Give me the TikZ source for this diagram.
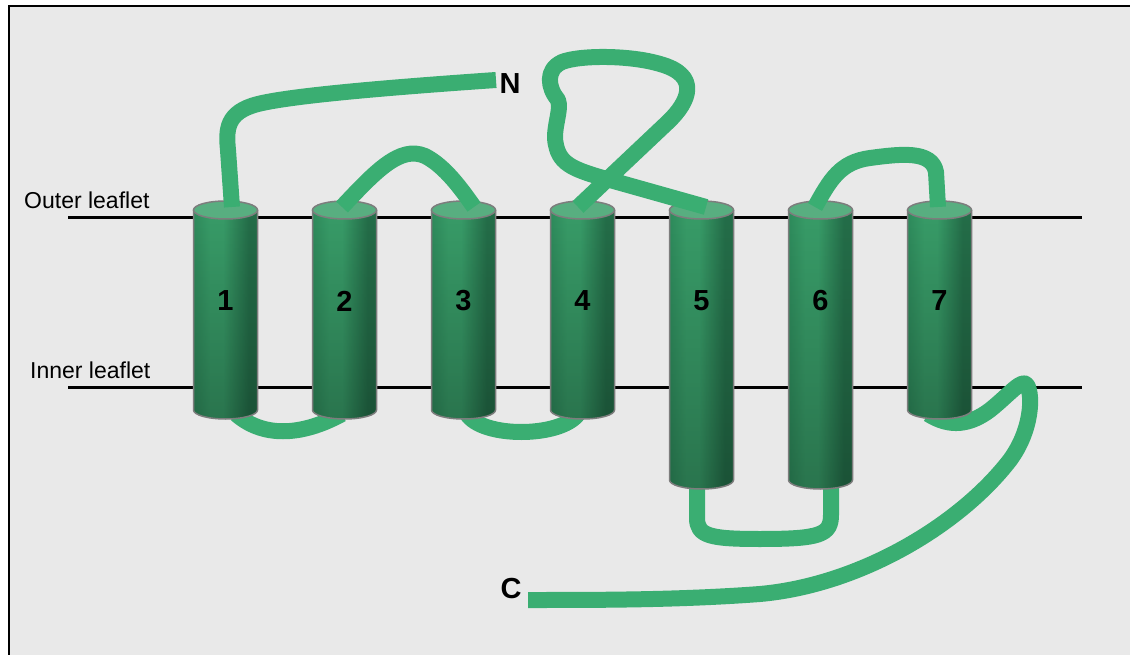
\documentclass[tikz,border=0pt]{standalone}
\usepackage{fontspec}
\setmainfont{Liberation Sans}
\usetikzlibrary{calc,fadings}

\definecolor{panelgray}{RGB}{233,233,233}
\definecolor{chaingreen}{RGB}{58,174,114}
\definecolor{helixA}{RGB}{46,140,92}
\definecolor{helixB}{RGB}{56,156,104}
\definecolor{helixC}{RGB}{36,110,73}
\definecolor{helixcap}{RGB}{88,174,128}
\definecolor{helixedge}{RGB}{125,125,125}

% body of a helix: light stripe left of centre, darker right side
\pgfdeclarehorizontalshading{helixbody}{100bp}{color(0bp)=(helixA); color(25bp)=(helixA); color(38bp)=(helixB); color(48bp)=(helixB); color(68bp)=(helixC); color(75bp)=(helixC); color(100bp)=(helixC)}
\tikzfading[name=helixshadow, top color=transparent!100, bottom color=transparent!0]

\tikzset{
  leaflet/.style={line width=3pt},
  peptide/.style={draw=chaingreen, line width=16pt, line join=round},
  helixnum/.style={font=\fontsize{29}{29}\selectfont\bfseries},
  terminus/.style={font=\fontsize{29}{29}\selectfont\bfseries},
  sidelabel/.style={font=\fontsize{23}{23}\selectfont, anchor=base west, inner sep=0pt}
}

% #1 number, #2 x of the axis, #3 y of the lower end
\newcommand{\tmhelix}[3]{%
  \shade[shading=helixbody] ({#2-32},210) -- ({#2-32},#3)
    arc[start angle=180, end angle=360, x radius=32pt, y radius=9pt] -- ({#2+32},210) -- cycle;
  \fill[black, fill opacity=0.25, path fading=helixshadow] ({#2-32},210) -- ({#2-32},#3)
    arc[start angle=180, end angle=360, x radius=32pt, y radius=9pt] -- ({#2+32},210) -- cycle;
  \draw[helixedge, line width=1.5pt] ({#2-32},210) -- ({#2-32},#3)
    arc[start angle=180, end angle=360, x radius=32pt, y radius=9pt] -- ({#2+32},210);
  \filldraw[fill=helixcap, draw=helixedge, line width=1.5pt] (#2,210) ellipse[x radius=32pt, y radius=9pt];
  \node[helixnum] (num#1) at (#2,301) {#1};
}

\newcommand{\helixlist}{1/225.5/410/6.5/10.5, 2/344.5/410/-2.5/-2.5, 3/463.5/410/10.5/3.5,
  4/582.5/410/-4.5/-4.5, 5/701.5/480/4.5/-4.5, 6/820.5/480/-5.5/10.5, 7/939.5/410/-1.5/-11.5}

\begin{document}
\begin{tikzpicture}[x=1pt, y=-1pt]
  \useasboundingbox (0,0) rectangle (1130,655);
  \fill[panelgray] (9,6) rectangle (1140,665);
  \draw[line width=2pt, black] (9,665) -- (9,6) -- (1140,6);

  % membrane
  \draw[leaflet] (68,218) -- (1082,218);
  \draw[leaflet] (68,387) -- (1082,387);
  \node[sidelabel] (outerlbl) at (24,209) {Outer leaflet};
  \node[sidelabel] (innerlbl) at (30,378) {Inner leaflet};

  % ends of the chain
  \node[terminus] (nterm) at (510,84) {N};
  \node[terminus] (cterm) at (511,589) {C};
  \coordinate (nend) at (496,80);
  \coordinate (cend) at (528,600);

  % where the loops meet each helix
  \foreach \i/\x/\yb/\dt/\db in \helixlist {
    \coordinate (top\i) at ({\x+\dt},207);
    \coordinate (bot\i) at ({\x+\db},{\yb+4});
  }

  % cytoplasmic loops, under the helices
  \draw[peptide] (bot1) .. controls (262,437) and (300,437) .. (bot2);
  \draw[peptide] (bot3) .. controls (482,438) and (560,438) .. (bot4);
  \draw[peptide] (bot5) -- (697,518) .. controls (697,536) and (710,539) .. (760,539)
    .. controls (820,539) and (831,535) .. (831,515) -- (bot6);
  \draw[peptide] (bot7) .. controls (950,428) and (970,425) .. (990,410)
    .. controls (1010,394) and (1022,378) .. (1027,385)
    .. controls (1033,395) and (1032,430) .. (1010,460)
    .. controls (960,525) and (860,585) .. (760,594)
    .. controls (680,600) and (600,600) .. (cend);

  % helices
  \foreach \i/\x/\yb/\dt/\db in \helixlist {
    \tmhelix{\i}{\x}{\yb}
  }

  % extracellular loops
  \draw[peptide] (nend) .. controls (380,88) and (290,96) .. (258,104)
    .. controls (226,112) and (226,130) .. (228,150) -- (top1);
  \draw[peptide] (top2) .. controls (375,172) and (400,145) .. (425,156)
    .. controls (445,166) and (462,190) .. (top3);
  \draw[peptide] (top4) -- (668,122) .. controls (690,101) and (700,75) .. (660,64)
    .. controls (630,55) and (580,55) .. (562,62)
    .. controls (545,70) and (548,88) .. (558,100)
    .. controls (562,110) and (552,130) .. (556,145)
    .. controls (560,165) and (575,170) .. (610,180) -- (top5);
  \draw[peptide] (top6) .. controls (830,180) and (840,162) .. (870,158)
    .. controls (900,154) and (932,150) .. (936,172) -- (top7);
\end{tikzpicture}
\end{document}
